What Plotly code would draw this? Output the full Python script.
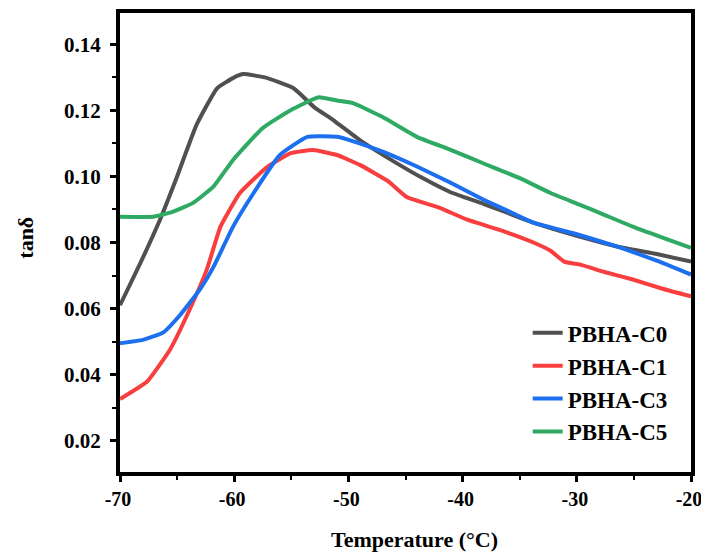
import plotly.graph_objects as go

# Temperature (°C) / tan delta values
c0_temp = [-70, -68.2, -66.5, -65, -63.3, -61.5, -60, -59.2, -57.3, -54.8, -53, -51.3, -49, -46,
           -43.5, -41.1, -38, -33.8, -30, -26.5, -23, -20]
c0_tan = [0.061, 0.0739, 0.0869, 0.100, 0.1156, 0.1267, 0.130, 0.131, 0.130, 0.1267, 0.121, 0.117,
          0.111, 0.1045, 0.0995, 0.0953, 0.0915, 0.086, 0.082, 0.0788, 0.0765, 0.0742]

c1_temp = [-70, -67.6, -65.6, -63.9, -62.4, -61.2, -59.5, -57.1, -55.1, -53.1, -51, -49, -46.5,
           -44.9, -42, -39.6, -36.5, -33.8, -32.3, -31.1, -29.7, -27.5, -25.1, -22.5, -20]
c1_tan = [0.0326, 0.038, 0.0477, 0.0597, 0.0718, 0.0848, 0.095, 0.1029, 0.107, 0.108, 0.1065,
          0.1035, 0.0985, 0.0938, 0.0905, 0.0869, 0.0835, 0.080, 0.0775, 0.0742, 0.0733, 0.071,
          0.0688, 0.066, 0.0637]

c3_temp = [-70, -68, -66.2, -64.7, -63, -61.8, -60.1, -58.3, -56, -53.6, -51, -49.9, -47, -44,
           -41, -38.2, -36, -33.8, -30, -26.5, -23, -20]
c3_tan = [0.0495, 0.0505, 0.0528, 0.0582, 0.0658, 0.0727, 0.0848, 0.095, 0.1065, 0.112, 0.112,
          0.111, 0.1075, 0.103, 0.098, 0.093, 0.0895, 0.086, 0.0825, 0.0788, 0.0745, 0.0703]

c5_temp = [-70, -67.1, -65.4, -63.6, -61.8, -60.1, -57.5, -55.1, -52.6, -51, -49.6, -47, -44,
           -41, -38.2, -35, -32.3, -30, -28, -25.1, -22.5, -20]
c5_tan = [0.0878, 0.0878, 0.0893, 0.092, 0.097, 0.105, 0.1147, 0.120, 0.124, 0.123, 0.1222,
          0.118, 0.112, 0.108, 0.104, 0.0995, 0.095, 0.0918, 0.089, 0.0848, 0.0815, 0.0784]

# tick labels as printed in the reference (plain hyphen minus)
x_tickvals = [-70, -60, -50, -40, -30, -20]
x_ticktext = ["-70", "-60", "-50", "-40", "-30", "-20"]

series = [
    ("PBHA-C0", c0_temp, c0_tan, "#505050"),
    ("PBHA-C1", c1_temp, c1_tan, "#f83e3e"),
    ("PBHA-C3", c3_temp, c3_tan, "#1c6fee"),
    ("PBHA-C5", c5_temp, c5_tan, "#2eaa62"),
]

font_family = "Liberation Serif, Times New Roman, serif"
bold = dict(family=font_family, color="black", weight="bold")

fig = go.Figure()
for name, xs, ys, colour in series:
    fig.add_trace(go.Scatter(x=xs, y=ys, name=name, mode="lines",
                             line=dict(color=colour, width=4, shape="spline", smoothing=0.4)))

# the page body adds an 8px offset, so the figure is 8px smaller than the window
fig.update_layout(
    width=701, height=546,
    paper_bgcolor="white", plot_bgcolor="white",
    margin=dict(l=112, r=18, t=5, b=82, autoexpand=False),
    font=dict(family=font_family, size=18, color="black"),
    showlegend=True,
    legend=dict(x=0.714, y=0.35, xanchor="left", yanchor="top",
                bgcolor="rgba(0,0,0,0)", tracegroupgap=0,
                font=dict(size=23, **bold)),
)

# axis titles placed as paper annotations so they sit where the reference has them
fig.add_annotation(text="Temperature (°C)", xref="paper", yref="paper", x=0.515, y=-0.146,
                   xanchor="center", yanchor="middle", showarrow=False, font=dict(size=22, **bold))
fig.add_annotation(text="tanδ", xref="paper", yref="paper", x=-0.165, y=0.51, textangle=-90,
                   xanchor="center", yanchor="middle", showarrow=False, font=dict(size=22, **bold))

axis_style = dict(
    showgrid=False, zeroline=False, automargin=False,
    showline=True, linecolor="black", linewidth=4, mirror=True,
    ticks="outside", ticklen=6, tickwidth=3, tickcolor="black",
)
fig.update_xaxes(range=[-70, -20], tickmode="array", tickvals=x_tickvals, ticktext=x_ticktext,
                 tickfont=dict(size=20, **bold), ticklabelshift=-2,
                 minor=dict(dtick=5, tick0=-70, ticks="outside", ticklen=4, tickwidth=2,
                            tickcolor="black"),
                 **axis_style)
fig.update_yaxes(range=[0.0105, 0.1495], dtick=0.02, tick0=0.02, tickformat=".2f",
                 tickfont=dict(size=21, **bold), ticklabelstandoff=5,
                 minor=dict(dtick=0.01, ticks="outside", ticklen=4, tickwidth=2, tickcolor="black"),
                 **axis_style)

fig.write_html("out.html")
